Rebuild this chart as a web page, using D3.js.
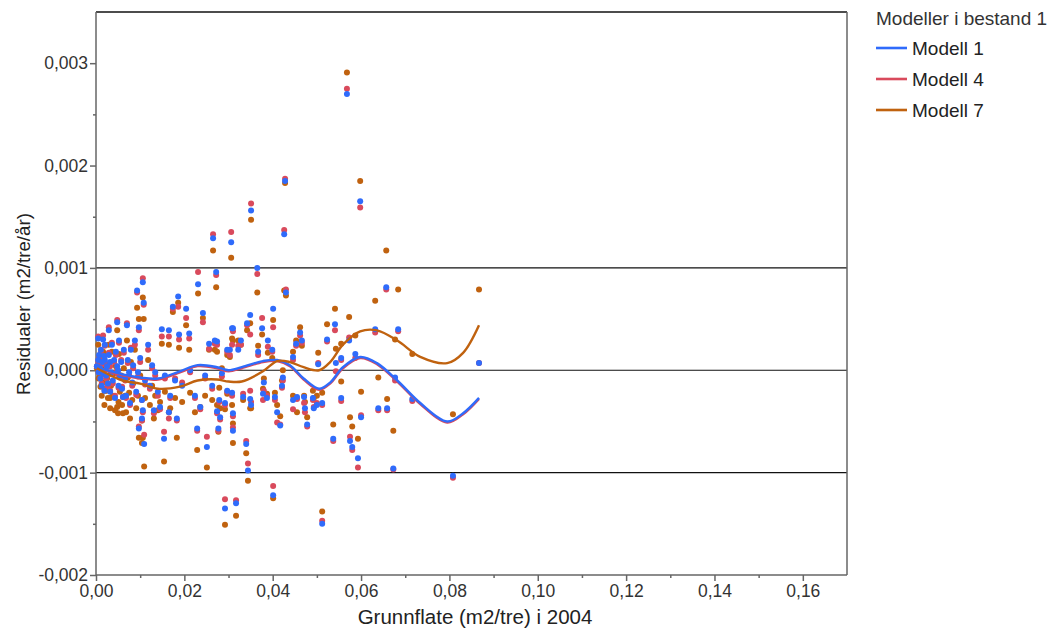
<!DOCTYPE html>
<html>
<head>
<meta charset="utf-8">
<script src="https://cdn.jsdelivr.net/npm/d3@7"></script>
<style>
  body { margin: 0; background: #fff; }
  svg { font-family: "Liberation Sans", Arial, sans-serif; }
  .akse path, .akse line { stroke: #666; stroke-width: 1.5; }
  .akse text { fill: #333; font-size: 17.5px; }
</style>
</head>
<body>
<div id="chart"></div>
<script>
// grunnflate (m2/tre) per tre, og residualer (enhet 0,001 m2/tre/år) for hver modell
var grunnflate = [0.0568, 0.0598, 0.0657, 0.0684, 0.0867, 0.0632, 0.0541, 0.0573, 0.0587, 0.0555, 0.0543, 0.0677, 0.0716, 0.0639, 0.0555, 0.0600, 0.0808, 0.0575, 0.0537, 0.0580, 0.0673, 0.0593,
  0.0428, 0.0426, 0.0351, 0.0306, 0.0365, 0.0265, 0.0272, 0.0430, 0.0401, 0.0349, 0.0376, 0.0308, 0.0389, 0.0399, 0.0462, 0.0466, 0.0523, 0.0503, 0.0446, 0.0367, 0.0322, 0.0303, 0.0269,
  0.0380, 0.0387, 0.0410, 0.0417, 0.0423, 0.0446, 0.0473, 0.0478, 0.0491, 0.0493, 0.0512, 0.0285, 0.0279, 0.0281, 0.0277, 0.0308, 0.0310, 0.0340, 0.0344, 0.0349, 0.0401, 0.0292, 0.0317, 0.0512,
  0.0351, 0.0378, 0.0405, 0.0421, 0.0455, 0.0471, 0.0500, 0.0659, 0.0453, 0.0342,
  0.0106, 0.0093, 0.0108, 0.0231, 0.0186, 0.0174, 0.0204, 0.0242, 0.0048, 0.0070, 0.0029, 0.0016, 0.0097, 0.0149, 0.0165, 0.0188, 0.0211, 0.0256, 0.0274, 0.0297, 0.0310, 0.0328,
  0.0020, 0.0032, 0.0048, 0.0050, 0.0061, 0.0077, 0.0104, 0.0106, 0.0104, 0.0109, 0.0097, 0.0131, 0.0145, 0.0154, 0.0165, 0.0183, 0.0236, 0.0251, 0.0229, 0.0274, 0.0292, 0.0297, 0.0310, 0.0333,
  0.0002, 0.0005, 0.0006, 0.0007, 0.0009, 0.0010, 0.0011, 0.0014, 0.0013, 0.0016, 0.0018, 0.0019, 0.0020, 0.0023, 0.0025, 0.0027, 0.0029, 0.0032, 0.0034, 0.0036, 0.0038, 0.0041, 0.0043, 0.0045,
  0.0051, 0.0052, 0.0054, 0.0057, 0.0059, 0.0063, 0.0066, 0.0068, 0.0072, 0.0075, 0.0079, 0.0082, 0.0084, 0.0088, 0.0091, 0.0095, 0.0100, 0.0111, 0.0118, 0.0122, 0.0127, 0.0134, 0.0140,
  0.0156, 0.0168, 0.0179, 0.0195, 0.0213, 0.0224, 0.0247, 0.0263, 0.0005];

var modell1 = [2.70, 1.65, 0.81, 0.40, 0.07, 0.40, 0.45, 0.29, 0.16, 0.12, 0.07, -0.07, -0.28, -0.37, -0.27, -0.46, -1.03, -0.69, -0.67, -0.75, -0.96, -0.86,
  1.85, 1.33, 1.56, 1.25, 1.00, 1.29, 0.96, 0.76, 0.60, 0.54, 0.41, 0.41, 0.29, 0.20, 0.37, 0.29, 0.30, 0.06, 0.13, 0.18, 0.20, 0.20, 0.29,
  -0.12, -0.27, -0.41, -0.54, -0.07, -0.29, -0.37, -0.53, -0.27, -0.37, -0.32, -0.03, -0.29, -0.46, -0.57, -0.22, -0.59, -0.72, -0.98, -0.28, -1.22, -1.35, -1.30, -1.50,
  -0.34, -0.23, -0.26, -0.15, -0.26, -0.26, -0.34, -0.37, 0.26, 0.46,
  0.86, 0.78, 0.66, 0.84, 0.72, 0.62, 0.60, 0.56, 0.47, 0.44, 0.39, 0.30, 0.42, 0.40, 0.39, 0.35, 0.36, 0.26, 0.28, 0.20, 0.41, 0.29,
  0.10, 0.08, 0.04, 0.00, -0.26, -0.32, -0.29, -0.39, -0.47, -0.72, -0.57, -0.39, -0.36, -0.67, -0.41, -0.47, -0.36, -0.75, -0.57, -0.40, -0.32, -0.20, -0.42, -0.26,
  0.04, 0.10, -0.02, 0.15, 0.02, -0.08, 0.20, 0.08, -0.15, -0.03, 0.14, -0.20, 0.25, -0.05, 0.04, -0.13, 0.15, -0.21, -0.02, 0.25, -0.10, 0.10, -0.27, 0.18,
  -0.15, 0.29, -0.05, 0.08, -0.18, 0.20, -0.08, -0.25, 0.10, -0.02, 0.20, -0.12, 0.05, 0.29, -0.21, -0.02, 0.12, -0.10, 0.25, -0.15, 0.05, -0.02, -0.21,
  -0.05, -0.25, -0.10, -0.15, 0.00, -0.25, -0.05, -0.15, 0.31];

var modell4 = [2.75, 1.59, 0.79, 0.38, 0.07, 0.37, 0.39, 0.32, 0.12, 0.10, -0.01, -0.10, -0.30, -0.39, -0.30, -0.44, -1.05, -0.65, -0.69, -0.78, -0.97, -0.95,
  1.87, 1.37, 1.63, 1.35, 0.94, 1.33, 0.93, 0.79, 0.42, 0.35, 0.51, 0.25, 0.23, 0.18, 0.34, 0.27, 0.28, 0.07, 0.10, 0.15, 0.24, 0.15, 0.26,
  -0.20, -0.25, -0.51, -0.53, -0.10, -0.38, -0.41, -0.55, -0.29, -0.36, -0.34, -0.06, -0.31, -0.48, -0.59, -0.25, -0.56, -0.69, -0.91, -0.20, -1.13, -1.26, -1.27, -1.47,
  -0.31, -0.29, -0.29, -0.17, -0.28, -0.32, -0.32, -0.39, 0.24, 0.44,
  0.90, 0.76, 0.64, 0.96, 0.62, 0.60, 0.51, 0.47, 0.49, 0.46, 0.42, 0.34, 0.39, 0.33, 0.33, 0.30, 0.31, 0.21, 0.25, 0.18, 0.38, 0.25,
  0.08, 0.04, 0.00, -0.04, -0.26, -0.34, -0.29, -0.41, -0.49, -0.63, -0.55, -0.42, -0.38, -0.60, -0.47, -0.49, -0.38, -0.65, -0.59, -0.42, -0.34, -0.21, -0.45, -0.23,
  0.04, 0.09, -0.02, 0.13, 0.01, -0.08, 0.18, 0.06, -0.13, -0.04, 0.12, -0.18, 0.24, -0.08, 0.03, -0.15, 0.17, -0.20, -0.04, 0.27, -0.13, 0.08, -0.25, 0.15,
  -0.17, 0.27, -0.07, 0.10, -0.16, 0.17, -0.10, -0.27, 0.07, -0.05, 0.22, -0.15, 0.02, 0.25, -0.24, -0.06, 0.08, -0.14, 0.20, -0.18, 0.02, -0.05, -0.25,
  -0.08, -0.27, -0.08, -0.12, -0.02, -0.27, -0.08, -0.18, 0.33];

var modell7 = [2.91, 1.85, 1.17, 0.79, 0.79, 0.68, 0.60, 0.52, 0.34, 0.26, 0.21, 0.30, 0.16, -0.07, -0.11, -0.21, -0.43, -0.46, -0.53, -0.55, -0.59, -0.67,
  1.83, 0.78, 1.47, 1.10, 0.76, 1.17, 0.81, 0.73, 0.49, 0.46, 0.35, 0.31, 0.17, 0.12, 0.42, 0.24, 0.45, 0.17, 0.18, 0.24, 0.29, 0.13, 0.20,
  -0.08, -0.23, -0.34, -0.45, 0.00, -0.25, -0.31, -0.46, -0.20, -0.27, -0.22, 0.02, -0.17, -0.37, -0.60, -0.34, -0.71, -0.81, -1.08, -0.37, -1.25, -1.51, -1.42, -1.38,
  -0.37, -0.18, -0.22, -0.10, -0.41, -0.25, -0.25, -0.28, 0.29, 0.39,
  0.71, 0.61, 0.50, 0.75, 0.66, 0.57, 0.44, 0.51, 0.39, 0.29, 0.25, 0.18, 0.50, 0.26, 0.25, 0.22, 0.20, 0.20, 0.18, 0.15, 0.29, 0.25,
  -0.20, -0.27, -0.36, -0.42, -0.42, -0.47, -0.49, -0.66, -0.71, -0.94, -0.66, -0.47, -0.31, -0.89, -0.41, -0.66, -0.36, -0.95, -0.78, -0.34, -0.38, -0.23, -0.52, -0.29,
  0.02, 0.05, -0.08, 0.08, -0.05, -0.16, 0.12, -0.01, -0.25, -0.12, 0.02, -0.34, 0.15, -0.20, -0.08, -0.27, 0.06, -0.37, -0.15, 0.18, -0.25, -0.03, -0.39, 0.04,
  -0.31, 0.16, -0.21, -0.05, -0.34, 0.02, -0.25, -0.41, -0.07, -0.22, 0.08, -0.29, -0.13, 0.20, -0.37, -0.25, -0.05, -0.27, 0.10, -0.34, -0.15, -0.25, -0.39,
  -0.21, -0.37, -0.27, -0.31, -0.22, -0.41, -0.25, -0.29, 0.25];

// glattede kurver (samme enhet)
var kurveX = [0.0002, 0.006, 0.010, 0.014, 0.019, 0.023, 0.0274, 0.030, 0.033, 0.0378, 0.041, 0.0439, 0.047, 0.0505, 0.053, 0.0559, 0.0598, 0.0636, 0.0682, 0.0734, 0.0795, 0.0831, 0.0867];
var kurveModell1 = [0.03, -0.04, -0.07, -0.08, -0.01, 0.05, 0.03, 0.00, 0.03, 0.09, 0.10, 0.05, -0.08, -0.18, -0.12, 0.03, 0.13, 0.07, -0.10, -0.32, -0.50, -0.42, -0.27];
var kurveModell4 = [0.02, -0.05, -0.08, -0.09, -0.02, 0.04, 0.02, -0.01, 0.02, 0.08, 0.09, 0.04, -0.09, -0.19, -0.13, 0.02, 0.12, 0.06, -0.11, -0.33, -0.51, -0.43, -0.28];
var kurveModell7 = [0.02, -0.10, -0.13, -0.18, -0.16, -0.10, -0.09, -0.11, -0.11, -0.01, 0.09, 0.08, 0.03, 0.00, 0.08, 0.25, 0.38, 0.39, 0.29, 0.13, 0.07, 0.17, 0.44];

var modellNavn = ["Modell 1", "Modell 4", "Modell 7"];
var farger = ["#2f6bfb", "#d94a5c", "#c0620f"];
var xTicks = [0, 0.02, 0.04, 0.06, 0.08, 0.10, 0.12, 0.14, 0.16];
var yTicks = [-0.002, -0.001, 0, 0.001, 0.002, 0.003];
var gridVerdier = [-0.001, 0, 0.001];

const enhet = 0.001;
const width = 1056, height = 633;

var svg = d3.select('#chart').append('svg')
    .attr('width', width)
    .attr('height', height);

var x = d3.scaleLinear().domain([0, 0.17]).range([96, 847]);
var y = d3.scaleLinear().domain([-0.002, 0.0035]).range([575, 12]);

var locale = d3.formatLocale({ decimal: ",", thousands: " ", grouping: [3], currency: ["", " kr"], minus: "-" });

// rutenett
svg.append('g')
    .selectAll('line')
    .data(gridVerdier)
    .join('line')
    .attr('x1', x(0)).attr('x2', x(0.17))
    .attr('y1', d => y(d)).attr('y2', d => y(d))
    .attr('stroke', '#111')
    .attr('stroke-width', 1.2);

// ramme topp og høyre
svg.append('line')
    .attr('x1', x(0)).attr('x2', x(0.17))
    .attr('y1', y(0.0035)).attr('y2', y(0.0035))
    .attr('stroke', '#111').attr('stroke-width', 1.5);
svg.append('line')
    .attr('x1', x(0.17)).attr('x2', x(0.17))
    .attr('y1', y(0.0035)).attr('y2', y(-0.002))
    .attr('stroke', '#666').attr('stroke-width', 1.5);

// akser
var xAkse = svg.append('g').attr('class', 'akse')
    .attr('transform', `translate(0,${y(-0.002)})`)
    .call(d3.axisBottom(x).tickValues(xTicks).tickSize(6).tickPadding(4).tickFormat(locale.format(".2f")));
xAkse.select('.domain').attr('d', `M${x(0)},0H${x(0.17)}`);

svg.append('g').attr('class', 'akse')
    .attr('transform', `translate(0,${y(-0.002)})`)
    .call(d3.axisBottom(x).tickValues(d3.range(0.01, 0.17, 0.02)).tickSize(3).tickFormat(''))
    .select('.domain').remove();

var yAkse = svg.append('g').attr('class', 'akse')
    .attr('transform', `translate(${x(0)},0)`)
    .call(d3.axisLeft(y).tickValues(yTicks).tickSize(6).tickPadding(2).tickFormat(locale.format(".3f")));
yAkse.select('.domain').attr('d', `M0,${y(0.0035)}V${y(-0.002)}`);

svg.append('g').attr('class', 'akse')
    .attr('transform', `translate(${x(0)},0)`)
    .call(d3.axisLeft(y).tickValues([-0.0015, -0.0005, 0.0005, 0.0015, 0.0025]).tickSize(3).tickFormat(''))
    .select('.domain').remove();

// punkter: modell 7 og 4 først, modell 1 øverst
var serier = [modell1, modell4, modell7];
[2, 1, 0].forEach(function (i) {
    svg.append('g')
        .selectAll('circle')
        .data(grunnflate)
        .join('circle')
        .attr('cx', d => x(d))
        .attr('cy', (d, j) => y(serier[i][j] * enhet))
        .attr('r', 3)
        .attr('fill', farger[i]);
});

// kurver
var kurver = [kurveModell1, kurveModell4, kurveModell7];
var linje = d3.line()
    .x(d => x(d[0]))
    .y(d => y(d[1] * enhet))
    .curve(d3.curveCatmullRom.alpha(0.5));

[1, 0, 2].forEach(function (i) {
    svg.append('path')
        .datum(kurveX.map((v, j) => [v, kurver[i][j]]))
        .attr('d', linje)
        .attr('fill', 'none')
        .attr('stroke', farger[i])
        .attr('stroke-width', 2.4);
});

// aksetitler
svg.append('text')
    .attr('x', 475).attr('y', 624)
    .attr('text-anchor', 'middle')
    .attr('font-size', 20.5)
    .attr('fill', '#222')
    .text('Grunnflate (m2/tre) i 2004');

svg.append('text')
    .attr('transform', 'translate(30,304) rotate(-90)')
    .attr('text-anchor', 'middle')
    .attr('font-size', 18.7)
    .attr('fill', '#222')
    .text('Residualer (m2/tre/år)');

// tegnforklaring
var legend = svg.append('g').attr('transform', 'translate(876,0)');
legend.append('text')
    .attr('x', 0).attr('y', 25)
    .attr('font-size', 19)
    .attr('fill', '#333')
    .text('Modeller i bestand 1');

var item = legend.selectAll('g.item')
    .data(modellNavn)
    .join('g')
    .attr('class', 'item')
    .attr('transform', (d, i) => `translate(0,${48 + i * 31})`);
item.append('line')
    .attr('x1', 0).attr('x2', 31)
    .attr('stroke', (d, i) => farger[i])
    .attr('stroke-width', 2.6);
item.append('text')
    .attr('x', 36).attr('y', 7)
    .attr('font-size', 19)
    .attr('fill', '#222')
    .text(d => d);
</script>
</body>
</html>
